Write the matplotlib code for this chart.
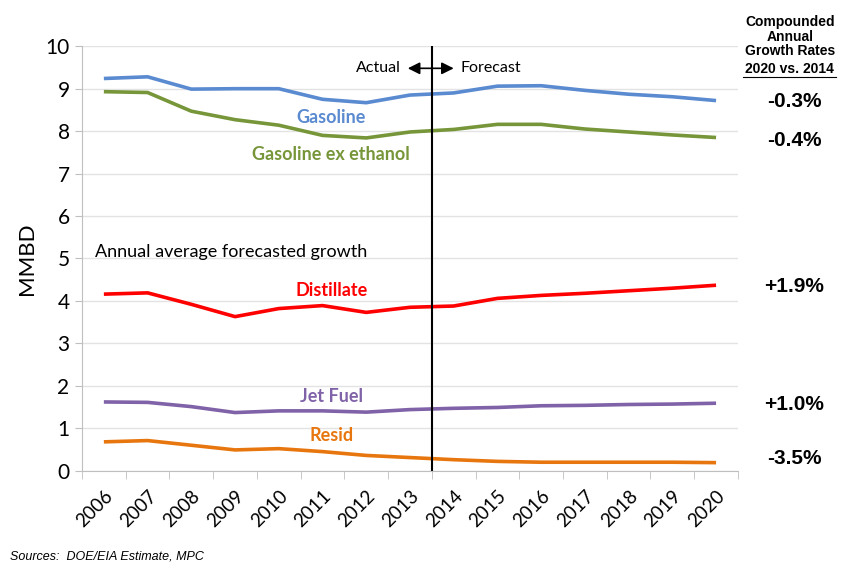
import matplotlib.pyplot as plt
import numpy as np

# MMBD demand by product, 2006-2013 actual, 2014-2020 forecast
years = [str(y) for y in range(2006, 2021)]
gasoline = [9.24, 9.28, 8.99, 9.0, 9.0, 8.75, 8.67, 8.85, 8.90, 9.06, 9.07, 8.96, 8.87, 8.81, 8.72]
gas_ex_ethanol = [8.93, 8.91, 8.47, 8.27, 8.14, 7.90, 7.84, 7.98, 8.04, 8.16, 8.16, 8.05, 7.98, 7.91, 7.85]
distillate = [4.16, 4.19, 3.92, 3.63, 3.82, 3.89, 3.73, 3.85, 3.88, 4.06, 4.13, 4.18, 4.24, 4.30, 4.37]
jet_fuel = [1.62, 1.61, 1.51, 1.37, 1.41, 1.41, 1.38, 1.44, 1.47, 1.49, 1.53, 1.54, 1.56, 1.57, 1.59]
resid = [0.68, 0.71, 0.60, 0.49, 0.52, 0.45, 0.36, 0.31, 0.26, 0.22, 0.20, 0.20, 0.20, 0.20, 0.19]
growth = ["-0.3%", "-0.4%", "+1.9%", "+1.0%", "-3.5%"]

series = [
    ("Gasoline", gasoline, "#5A8AD0"),
    ("Gasoline ex ethanol", gas_ex_ethanol, "#77963A"),
    ("Distillate", distillate, "#FF0000"),
    ("Jet Fuel", jet_fuel, "#8062A8"),
    ("Resid", resid, "#E8760E"),
]
label_y = [8.32, 7.45, 4.24, 1.76, 0.82]   # where the in-plot names sit
growth_y = [8.69, 7.79, 4.33, 1.56, 0.29]

plt.rcParams['font.family'] = ['Lato', 'DejaVu Sans']
narrow = ['Liberation Sans Narrow', 'Liberation Sans', 'DejaVu Sans']
fig = plt.figure(figsize=(8.42, 5.64), dpi=100)
ax = fig.add_axes([0.0974, 0.1654, 0.779, 0.7526])

x = np.arange(len(years))
for (name, vals, col), ly in zip(series, label_y):
    ax.plot(x, vals, color=col, lw=2.6, solid_capstyle='butt')
    ax.text(5.2, ly, name, color=col, fontsize=13, fontweight='bold', ha='center', va='center')

ax.set_xlim(-0.5, len(years) - 0.5)
ax.set_ylim(0, 10)
ax.set_yticks(range(0, 11))
ax.tick_params(axis='y', length=5, color='#bfbfbf', labelsize=15, pad=4)
ax.set_xticks(x)
ax.set_xticklabels(years, rotation=45, ha='right', rotation_mode='anchor', fontsize=13.5)
ax.tick_params(axis='x', which='major', length=0, pad=12)
ax.set_xticks(np.arange(-0.5, len(years), 1.0), minor=True)
ax.tick_params(axis='x', which='minor', length=6, color='#bfbfbf', direction='out')
ax.grid(axis='y', color='#e3e3e3', lw=1)
ax.set_axisbelow(True)
for s in ['top', 'right']:
    ax.spines[s].set_visible(False)
for s in ['left', 'bottom']:
    ax.spines[s].set_color('#bfbfbf')
ax.set_ylabel('MMBD', fontsize=16, labelpad=6)

# actual / forecast divider
ax.axvline(7.5, color='black', lw=1.5)
ax.text(6.8, 9.48, 'Actual', fontsize=11.5, ha='right', va='center')
ax.text(8.15, 9.48, 'Forecast', fontsize=11.5, ha='left', va='center')
ax.annotate('', xy=(6.95, 9.48), xytext=(8.0, 9.48),
            arrowprops=dict(arrowstyle='<|-|>,head_length=0.6,head_width=0.3', color='black',
                            lw=1.2, mutation_scale=12, shrinkA=0, shrinkB=0))
ax.text(-0.2, 5.15, 'Annual average forecasted growth', fontsize=13, ha='left', va='center')

# growth rates at right
fig.text(0.938, 0.935, 'Compounded\nAnnual\nGrowth Rates', fontsize=10, fontweight='bold',
         ha='center', va='center', linespacing=1.05, family=narrow)
fig.text(0.938, 0.877, '2020 vs. 2014', fontsize=10, fontweight='bold', ha='center', va='center',
         family=narrow)
fig.add_artist(plt.Line2D([0.883, 0.993], [0.863, 0.863], color='black', lw=0.8))
for g, gy in zip(growth, growth_y):
    ax.text(1.086, gy, g, transform=ax.get_yaxis_transform(), fontsize=15, fontweight='bold',
            ha='center', va='center', family=narrow)

fig.text(0.012, 0.008, 'Sources:  DOE/EIA Estimate, MPC', fontsize=9, style='italic', family=narrow)

fig.savefig('out.png', dpi=100)
